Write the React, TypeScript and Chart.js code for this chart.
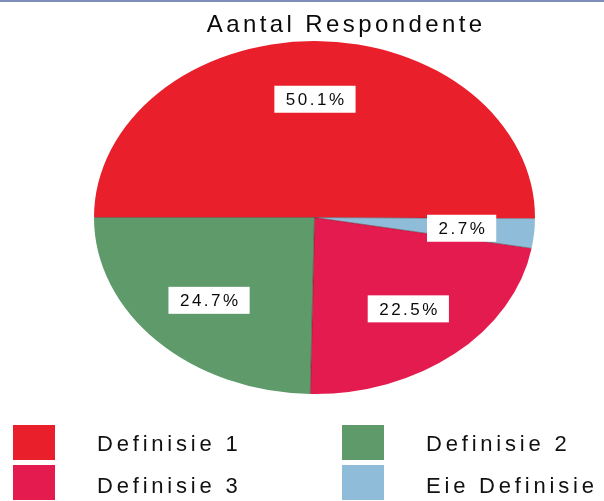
import React, { useEffect, useRef } from "react";
import { Chart, registerables } from "chart.js";

Chart.register(...registerables);

// ---- data ----
const chartTitle = "Aantal Respondente";
// slices in drawing order (clockwise, starting at the left/9 o'clock)
const categories = ["Definisie 1", "Eie Definisie", "Definisie 3", "Definisie 2"];
const values = [50.1, 2.7, 22.5, 24.7];
const sliceColors = ["#E9202B", "#8FBCD8", "#E31B4E", "#5F9A6B"];
// legend order (row-major, two columns)
const legendOrder = ["Definisie 1", "Definisie 2", "Definisie 3", "Eie Definisie"];

// ---- styling constants ----
const W = 604;
const H = 501;
const SX = 220.5 / 176.5; // horizontal stretch: ellipse pie

const FONT = '"Liberation Sans", Arial, Helvetica, sans-serif';

const ellipsePlugin = {
  id: "ellipsePie",
  beforeDatasetsDraw(chart: any) {
    const arc = chart.getDatasetMeta(0).data[0];
    if (!arc) return;
    const { x, y } = arc;
    const ctx = chart.ctx;
    ctx.save();
    ctx.translate(x, y);
    ctx.scale(SX, 1);
    ctx.translate(-x, -y);
  },
  afterDatasetsDraw(chart: any) {
    const ctx = chart.ctx;
    const meta = chart.getDatasetMeta(0);
    // thin radial separators (drawn inside the stretched context)
    meta.data.forEach((arc: any) => {
      const p = arc.getProps(["x", "y", "startAngle", "outerRadius"], true);
      ctx.beginPath();
      ctx.moveTo(p.x, p.y);
      ctx.lineTo(
        p.x + Math.cos(p.startAngle) * (p.outerRadius - 0.5),
        p.y + Math.sin(p.startAngle) * (p.outerRadius - 0.5)
      );
      ctx.strokeStyle = "rgba(80,35,40,0.45)";
      ctx.lineWidth = 0.9;
      ctx.stroke();
    });
    ctx.restore();
    // value labels in white boxes
    meta.data.forEach((arc: any, i: number) => {
      const p = arc.getProps(["x", "y", "startAngle", "endAngle", "outerRadius"], true);
      const mid = (p.startAngle + p.endAngle) / 2;
      const r = p.outerRadius * 0.67;
      const px = p.x + Math.cos(mid) * r * SX;
      const py = p.y + Math.sin(mid) * r;
      const text = values[i].toFixed(1) + "%";
      ctx.save();
      ctx.font = `17px ${FONT}`;
      const sp = 2.5;
      (ctx as any).letterSpacing = sp + "px";
      const tw = ctx.measureText(text).width - sp;
      const bw = tw + 23;
      const bh = 27;
      ctx.fillStyle = "#FFFFFF";
      ctx.fillRect(px - bw / 2, py - bh / 2, bw, bh);
      ctx.fillStyle = "#0A0A0A";
      ctx.textBaseline = "middle";
      ctx.textAlign = "left";
      ctx.fillText(text, px - tw / 2, py + 1);
      ctx.restore();
    });
  },
  afterDraw(chart: any) {
    const ctx = chart.ctx;
    // title
    ctx.save();
    ctx.font = `24px ${FONT}`;
    const tsp = 3.4;
    (ctx as any).letterSpacing = tsp + "px";
    const tw = ctx.measureText(chartTitle).width - tsp;
    ctx.fillStyle = "#0A0A0A";
    ctx.textBaseline = "alphabetic";
    ctx.textAlign = "left";
    ctx.fillText(chartTitle, 344.5 - tw / 2, 32);
    ctx.restore();

    // legend
    const cols = [13, 342];
    const sqRows = [425, 465];
    const textRows = [451, 493];
    legendOrder.forEach((label, k) => {
      const idx = categories.indexOf(label);
      const col = k % 2;
      const row = Math.floor(k / 2);
      ctx.save();
      ctx.fillStyle = sliceColors[idx];
      ctx.fillRect(cols[col], sqRows[row], 42, 35);
      ctx.font = `22px ${FONT}`;
      (ctx as any).letterSpacing = "3.8px";
      ctx.fillStyle = "#111111";
      ctx.textBaseline = "alphabetic";
      ctx.textAlign = "left";
      ctx.fillText(label, cols[col] + 84, textRows[row]);
      ctx.restore();
    });
  },
};

export default function App() {
  const ref = useRef<HTMLCanvasElement | null>(null);

  useEffect(() => {
    if (!ref.current) return;
    const chart = new Chart(ref.current, {
      type: "pie",
      data: {
        labels: categories,
        datasets: [
          {
            data: values,
            backgroundColor: sliceColors,
            borderWidth: 0,
          },
        ],
      },
      options: {
        responsive: false,
        animation: false,
        rotation: -90,
        layout: {
          padding: { left: 138, right: 113, top: 41, bottom: 107 },
        },
        plugins: {
          legend: { display: false },
          title: { display: false },
          tooltip: { enabled: false },
        },
      },
      plugins: [ellipsePlugin],
    });
    return () => chart.destroy();
  }, []);

  return (
    <div
      style={{
        position: "fixed",
        left: 0,
        top: 0,
        width: W,
        height: H,
        background: "#FFFFFF",
        overflow: "hidden",
      }}
    >
      <div
        style={{
          position: "absolute",
          left: 0,
          top: 0,
          width: W,
          height: 2,
          background: "#7F8DBA",
        }}
      />
      <canvas ref={ref} width={W} height={H} style={{ display: "block" }} />
    </div>
  );
}
